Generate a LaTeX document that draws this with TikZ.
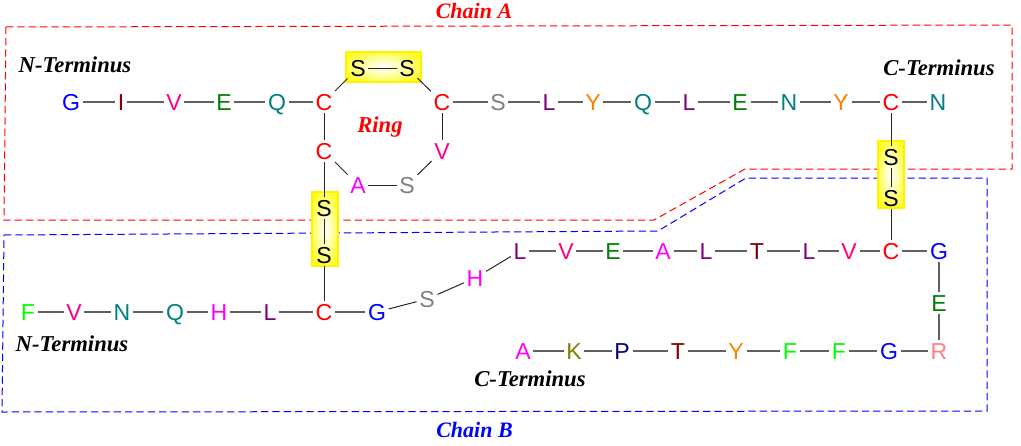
\documentclass[tikz,border=0pt]{standalone}
\usepackage{fontspec}
\setmainfont{Liberation Sans}
\newfontfamily\lblfont{Liberation Serif}
\definecolor{aaRose}{HTML}{FF0080}
\definecolor{aaOrange}{HTML}{FF8000}
\definecolor{aaGreen}{HTML}{008000}
\definecolor{aaTeal}{HTML}{008080}
\definecolor{aaMaroon}{HTML}{800000}
\definecolor{aaPurple}{HTML}{800080}
\definecolor{aaGray}{HTML}{808080}
\definecolor{aaMag}{HTML}{FF00FF}
\definecolor{aaLime}{HTML}{00FF00}
\definecolor{aaSalmon}{HTML}{FF8080}
\definecolor{aaOlive}{HTML}{808000}
\definecolor{aaNavy}{HTML}{000080}
\definecolor{bondGray}{HTML}{606060}
\pgfdeclareradialshading{ssglow}{\pgfpoint{0bp}{0bp}}{color(0bp)=(white); color(12bp)=(white!70!yellow); color(30bp)=(white!12!yellow); color(42bp)=(yellow); color(50bp)=(yellow)}
\tikzset{
  x=0.75pt,y=-0.75pt,
  res/.style={inner sep=1.9pt,text height=12.4pt,text depth=0pt,font=\fontsize{17.3}{19}\selectfont},
  rG/.style={res,text=blue}, rI/.style={res,text=aaMaroon}, rV/.style={res,text=aaRose},
  rE/.style={res,text=aaGreen}, rQ/.style={res,text=aaTeal}, rC/.style={res,text=red},
  rS/.style={res,text=aaGray}, rX/.style={res,text=black}, rL/.style={res,text=aaPurple},
  rY/.style={res,text=aaOrange}, rN/.style={res,text=aaTeal}, rA/.style={res,text=aaMag},
  rF/.style={res,text=aaLime}, rH/.style={res,text=aaMag}, rT/.style={res,text=aaMaroon},
  rR/.style={res,text=aaSalmon}, rK/.style={res,text=aaOlive}, rP/.style={res,text=aaNavy},
  bond/.style={draw=bondGray,line width=1.2pt},
  thinbond/.style={draw=black!85,line width=0.75pt},
  chainA/.style={draw=red,line width=0.75pt,dash pattern=on 5.5pt off 3pt},
  chainB/.style={draw=blue,line width=0.75pt,dash pattern=on 5.5pt off 3pt},
  glow/.style={shading=ssglow,draw=yellow,line width=1pt},
  lbl/.style={font=\lblfont\fontsize{17}{19}\selectfont\bfseries\itshape,inner sep=0pt},
  chainlbl/.style={font=\lblfont\fontsize{16.5}{19}\selectfont\bfseries\itshape,inner sep=0pt},
}
\begin{document}
\begin{tikzpicture}
\useasboundingbox (0,0) rectangle (1021,446);
% chain outlines
\draw[chainA] (6,27) -- (1012,25) -- (1012,169) -- (745,169) -- (654,220) -- (4,220) -- cycle;
\draw[chainB] (4,235) -- (658,231) -- (746,178) -- (987,178) -- (987,411) -- (2,412) -- cycle;
% disulfide highlights
\shade[glow] (346,52) rectangle (421,82);
\shade[glow] (312,192) rectangle (338,266);
\shade[glow] (878,141) rectangle (904,208);
% Chain A
\node[rG] (a1) at (71,102) {G};
\node[rI] (a2) at (121,102) {I};
\node[rV] (a3) at (174,102) {V};
\node[rE] (a4) at (224,102) {E};
\node[rQ] (a5) at (277,102) {Q};
\node[rC] (a6) at (324,102) {C};
\node[rX] (s1) at (358,68) {S};
\node[rX] (s2) at (407,68) {S};
\node[rC] (a7) at (442,102) {C};
\node[rC] (a8) at (324,151) {C};
\node[rA] (a9) at (358,185) {A};
\node[rS] (a10) at (407,185) {S};
\node[rV] (a11) at (442,151) {V};
\node[rS] (a12) at (498,102) {S};
\node[rL] (a13) at (549,102) {L};
\node[rY] (a14) at (593,102) {Y};
\node[rQ] (a15) at (643,102) {Q};
\node[rL] (a16) at (689,102) {L};
\node[rE] (a17) at (740,102) {E};
\node[rN] (a18) at (789,102) {N};
\node[rY] (a19) at (841,102) {Y};
\node[rC] (a20) at (891,102) {C};
\node[rN] (a21) at (938,102) {N};
\node[rX] (s3) at (324,208) {S};
\node[rX] (s4) at (324,255) {S};
\node[rX] (s5) at (891,157) {S};
\node[rX] (s6) at (891,198) {S};
% Chain B
\node[rF] (b1) at (28,312) {F};
\node[rV] (b2) at (74,312) {V};
\node[rN] (b3) at (122,312) {N};
\node[rQ] (b4) at (175,312) {Q};
\node[rH] (b5) at (219,312) {H};
\node[rL] (b6) at (270,312) {L};
\node[rC] (b7) at (324,312) {C};
\node[rG] (b8) at (377,312) {G};
\node[rS] (b9) at (427,299) {S};
\node[rH] (b10) at (475,278) {H};
\node[rL] (b11) at (520,251) {L};
\node[rV] (b12) at (566,251) {V};
\node[rE] (b13) at (613,251) {E};
\node[rA] (b14) at (663,251) {A};
\node[rL] (b15) at (706,251) {L};
\node[rT] (b16) at (757,251) {T};
\node[rL] (b17) at (809,251) {L};
\node[rV] (b18) at (849,251) {V};
\node[rC] (b19) at (891,251) {C};
\node[rG] (b20) at (939,251) {G};
\node[rE] (b21) at (939,303) {E};
\node[rR] (b22) at (939,351) {R};
\node[rG] (b23) at (889,351) {G};
\node[rF] (b24) at (839,351) {F};
\node[rF] (b25) at (790,351) {F};
\node[rY] (b26) at (736,351) {Y};
\node[rT] (b27) at (678,351) {T};
\node[rP] (b28) at (622,351) {P};
\node[rK] (b29) at (574,351) {K};
\node[rA] (b30) at (523,351) {A};
% Bonds
\foreach \p/\q in {a1/a2,a2/a3,a3/a4,a4/a5,a5/a6,a7/a12,a12/a13,a13/a14,a14/a15,a15/a16,a16/a17,a17/a18,a18/a19,a19/a20,a20/a21,
  b1/b2,b2/b3,b3/b4,b4/b5,b5/b6,b6/b7,b7/b8,b11/b12,b12/b13,b13/b14,b14/b15,b15/b16,b16/b17,b17/b18,b18/b19,b19/b20,
  b22/b23,b23/b24,b24/b25,b25/b26,b26/b27,b27/b28,b28/b29,b29/b30,b20/b21,b21/b22}
  \draw[bond] (\p) -- (\q);
\foreach \p/\q in {a6/s1,s1/s2,s2/a7,a7/a11,a11/a10,a10/a9,a9/a8,a8/a6,a8/s3,s3/s4,s4/b7,a20/s5,s5/s6,s6/b19,b8/b9,b9/b10,b10/b11}
  \draw[thinbond] (\p) -- (\q);
% Labels
\node[chainlbl,text=red] (chA) at (474,11) {Chain A};
\node[chainlbl,text=blue] (chB) at (474.5,430) {Chain B};
\node[lbl,text=red] (ring) at (380,127) {Ring};
\node[lbl] (nt1) at (75,65) {N-Terminus};
\node[lbl] (ct1) at (939,68) {C-Terminus};
\node[lbl] (nt2) at (72,344) {N-Terminus};
\node[lbl] (ct2) at (530,379) {C-Terminus};
\end{tikzpicture}
\end{document}
